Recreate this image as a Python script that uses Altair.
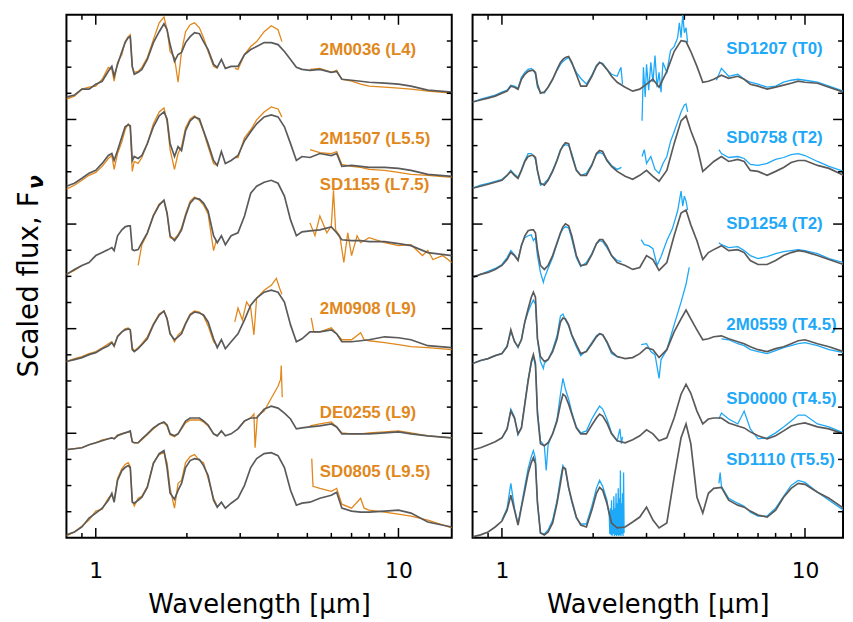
import altair as alt
import pandas as pd

# ---------------- wavelength grids (micron) ----------------
L_WAVE = [0.80, 0.85, 0.90, 0.95, 1.00, 1.05, 1.10, 1.13, 1.15, 1.18,
          1.22, 1.25, 1.28, 1.30, 1.32, 1.34, 1.38, 1.42, 1.48, 1.55,
          1.62, 1.68, 1.72, 1.76, 1.82, 1.87, 1.92, 1.98, 2.05, 2.12,
          2.20, 2.27, 2.35, 2.45, 2.52, 2.60, 2.68, 2.80, 2.95, 3.10,
          3.25, 3.40, 3.60, 3.80, 4.00, 4.20, 4.40, 4.60, 4.80, 5.10,
          5.50, 6.00, 6.25, 6.50, 7.00, 7.50, 8.00, 9.00, 10.0, 11.0,
          12.5, 15.0]
T_WAVE = [0.80, 0.85, 0.90, 0.95, 1.00, 1.04, 1.07, 1.10, 1.13, 1.16,
          1.19, 1.22, 1.25, 1.27, 1.29, 1.31, 1.34, 1.38, 1.42, 1.47,
          1.52, 1.56, 1.59, 1.62, 1.66, 1.70, 1.76, 1.82, 1.90, 1.98,
          2.05, 2.10, 2.15, 2.22, 2.30, 2.40, 2.55, 2.70, 2.85, 3.00,
          3.15, 3.30, 3.50, 3.70, 3.90, 4.05, 4.20, 4.40, 4.60, 4.80,
          5.00, 5.30, 5.60, 6.00, 6.30, 6.60, 7.00, 7.50, 8.00, 8.50,
          9.00, 9.50, 10.0, 11.0, 12.0, 13.4]

# ---------------- L dwarfs (left panel), scaled + offset flux ----------------
L_NAMES = ["2M0036 (L4)", "2M1507 (L5.5)", "SD1155 (L7.5)",
           "2M0908 (L9)", "DE0255 (L9)", "SD0805 (L9.5)"]
L_LABEL_FLUX = [492, 403, 356, 231, 126, 66]

M_2M0036 = [445, 447, 453, 453, 458, 461, 471, 476, 466, 478,
            491, 500, 505, 506, 476, 468, 470, 473, 483, 500,
            511, 519, 513, 498, 481, 488, 490, 500, 506, 510,
            509, 501, 493, 478, 475, 483, 474, 476, 476, 488,
            493, 496, 500, 500, 498, 491, 483, 475, 473, 472,
            473, 470, 471, 463, 462, 461, 460, 459, 458, 456,
            452, 450]
M_2M1507 = [355, 358, 363, 368, 371, 378, 386, 388, 381, 391,
            405, 415, 417, 416, 381, 385, 383, 386, 398, 415,
            426, 430, 423, 398, 385, 395, 391, 411, 421, 425,
            423, 411, 398, 381, 376, 390, 378, 381, 386, 401,
            410, 418, 425, 427, 425, 415, 398, 381, 385, 384,
            388, 386, 388, 375, 376, 375, 374, 374, 373, 371,
            367, 365]
M_SD1155 = [266, 271, 275, 278, 285, 288, 291, 293, 290, 305,
            311, 314, 315, 315, 291, 290, 291, 298, 308, 325,
            336, 341, 328, 305, 300, 305, 311, 325, 338, 343,
            342, 338, 330, 305, 298, 305, 296, 305, 308, 325,
            348, 355, 359, 361, 358, 345, 321, 305, 309, 310,
            311, 314, 308, 301, 300, 300, 299, 299, 297, 295,
            288, 285]
M_2M0908 = [178, 180, 182, 185, 187, 191, 194, 197, 194, 203,
            208, 210, 211, 210, 190, 188, 191, 195, 201, 215,
            225, 229, 221, 206, 200, 203, 206, 216, 225, 228,
            227, 225, 218, 201, 192, 200, 191, 198, 206, 220,
            235, 242, 248, 250, 248, 238, 215, 198, 201, 208,
            208, 210, 206, 198, 198, 199, 200, 203, 202, 200,
            194, 192]
M_DE0255 = [89, 90, 91, 94, 96, 98, 100, 101, 100, 103,
            105, 106, 107, 108, 97, 96, 96, 100, 105, 111,
            115, 117, 114, 105, 103, 105, 111, 118, 121, 121,
            121, 118, 114, 105, 103, 108, 103, 105, 110, 118,
            121, 121, 130, 133, 131, 126, 120, 110, 111, 112,
            113, 115, 112, 105, 105, 105, 105, 106, 107, 105,
            103, 101]
M_SD0805 = [3, 6, 11, 20, 25, 30, 38, 45, 36, 58,
            68, 71, 73, 71, 36, 35, 38, 41, 51, 75,
            85, 88, 71, 45, 39, 48, 55, 71, 78, 80,
            79, 73, 63, 38, 31, 36, 30, 35, 40, 53,
            71, 80, 85, 86, 83, 71, 48, 33, 35, 36,
            40, 43, 46, 30, 27, 26, 26, 27, 28, 25,
            16, 11]

O_2M0036 = [
    (L_WAVE[:35],
     [443, 446, 453, 455, 456, 463, 475, 473, 461, 480,
      488, 501, 506, 508, 475, 470, 471, 475, 485, 503,
      520, 526, 513, 491, 485, 460, 491, 511, 518, 520,
      515, 505, 491, 476, 474]),
    ([2.88, 2.95, 3.10, 3.25, 3.40, 3.60, 3.80, 4.00, 4.12],
     [474, 473, 488, 496, 501, 511, 517, 513, 501]),
    (L_WAVE[49:],
     [473, 474, 470, 472, 463, 461, 458, 456, 455, 454, 453, 451, 449]),
]
O_2M1507 = [
    (L_WAVE[:35],
     [352, 356, 361, 366, 369, 375, 383, 386, 372, 388,
      400, 412, 418, 414, 370, 380, 378, 384, 398, 418,
      430, 434, 420, 392, 372, 388, 395, 414, 423, 426,
      421, 410, 395, 378, 376]),
    ([2.90, 2.95, 3.10, 3.25, 3.40, 3.60, 3.80, 4.00, 4.12],
     [384, 384, 404, 412, 422, 430, 435, 433, 425]),
    (L_WAVE[49:],
     [392, 389, 388, 390, 377, 375, 374, 372, 371, 369, 367, 366, 364]),
]
O_SD1155 = [
    ([0.80, 0.85, 0.90], [266, 270, 275]),
    ([1.38, 1.42, 1.48, 1.55, 1.62, 1.68, 1.72, 1.76, 1.82, 1.87,
      1.92, 1.98, 2.05, 2.12, 2.20, 2.27, 2.35, 2.45, 2.50],
     [275, 296, 307, 326, 337, 340, 327, 303, 302, 306,
      313, 327, 340, 344, 341, 336, 327, 290, 300]),
    ([5.10, 5.30, 5.50, 5.80, 6.00, 6.10, 6.20, 6.40, 6.60, 6.80, 7.00,
      7.30, 7.50, 8.00, 9.00, 10.0, 11.0, 12.0, 12.5, 13.0, 14.0, 15.0],
     [318, 305, 325, 308, 315, 351, 311, 305, 278, 308, 285,
      305, 298, 303, 298, 295, 296, 285, 290, 281, 285, 278]),
]
O_2M0908 = [
    (L_WAVE[:35],
     [178, 181, 183, 186, 188, 192, 196, 198, 193, 204,
      208, 211, 212, 210, 192, 189, 192, 196, 203, 216,
      226, 229, 222, 207, 198, 205, 208, 217, 226, 229,
      228, 224, 214, 198, 194]),
    ([2.88, 2.95, 3.05, 3.15, 3.25, 3.33, 3.40, 3.60, 3.80, 3.95, 4.05, 4.12],
     [218, 232, 220, 238, 232, 205, 242, 250, 255, 262, 252, 246]),
    ([5.15, 5.25, 5.50, 6.00, 6.25, 6.50, 7.00, 7.50, 7.70, 8.00,
      9.00, 10.0, 11.0, 12.5, 15.0],
     [222, 208, 208, 212, 206, 200, 200, 207, 200, 199,
      197, 195, 193, 192, 190]),
]
O_DE0255 = [
    (L_WAVE[:35],
     [89, 90, 91, 94, 96, 99, 100, 101, 100, 104,
      105, 106, 107, 107, 97, 96, 96, 99, 104, 110,
      115, 116, 113, 104, 102, 105, 110, 116, 119, 119,
      119, 117, 113, 105, 103]),
    ([2.95, 3.10, 3.25, 3.33, 3.36, 3.42, 3.60, 3.80, 4.00, 4.08, 4.10, 4.13],
     [110, 118, 121, 125, 91, 123, 128, 141, 153, 160, 174, 142]),
    (L_WAVE[49:],
     [113, 115, 117, 112, 106, 105, 105, 106, 107, 108, 106, 103, 101]),
]
O_SD0805 = [
    (L_WAVE[:35],
     [2, 6, 12, 18, 27, 29, 40, 43, 38, 60,
      70, 74, 76, 72, 38, 32, 40, 42, 52, 76,
      84, 86, 76, 50, 30, 55, 58, 76, 82, 84,
      78, 76, 60, 40, 32]),
    ([5.17, 5.22, 5.50, 6.00, 6.25, 6.50, 7.00, 7.50, 7.70, 8.00,
      9.00, 10.0, 11.0, 12.5, 15.0],
     [80, 52, 50, 47, 50, 34, 30, 40, 30, 28,
      26, 24, 22, 18, 10]),
]

# ---------------- T dwarfs (right panel) ----------------
T_NAMES = ["SD1207 (T0)", "SD0758 (T2)", "SD1254 (T2)",
           "2M0559 (T4.5)", "SD0000 (T4.5)", "SD1110 (T5.5)"]
T_LABEL_FLUX = [493, 404, 317, 215, 140, 79]

M_SD1207 = [440, 442, 444, 446, 449, 451, 456, 455, 453, 463,
            468, 471, 472, 472, 470, 458, 449, 450, 455, 463,
            473, 480, 483, 485, 486, 480, 468, 456, 456, 466,
            476, 480, 478, 473, 466, 460, 455, 451, 453, 458,
            463, 455, 471, 491, 502, 501, 491, 476, 460, 461,
            463, 467, 464, 466, 463, 458, 456, 453, 455, 457,
            459, 461, 460, 459, 455, 450]
M_SD0758 = [353, 355, 357, 359, 361, 366, 370, 366, 363, 371,
            380, 385, 386, 386, 384, 371, 358, 356, 361, 370,
            381, 391, 396, 399, 398, 386, 371, 366, 366, 376,
            388, 391, 390, 381, 375, 370, 365, 362, 366, 371,
            365, 360, 371, 398, 421, 426, 411, 395, 370, 375,
            380, 385, 380, 382, 380, 371, 370, 366, 370, 374,
            379, 381, 381, 376, 373, 366]
M_SD1254 = [263, 266, 268, 271, 275, 281, 288, 285, 280, 295,
            305, 310, 311, 311, 308, 291, 275, 271, 275, 285,
            298, 308, 314, 317, 315, 305, 285, 275, 276, 286,
            297, 301, 301, 295, 285, 278, 275, 271, 273, 285,
            281, 270, 278, 305, 328, 331, 316, 300, 281, 288,
            291, 295, 290, 291, 288, 280, 276, 276, 280, 285,
            288, 290, 289, 285, 281, 276]
M_2M0559 = [176, 179, 181, 184, 186, 193, 210, 198, 193, 200,
            218, 231, 243, 248, 243, 201, 183, 178, 180, 188,
            201, 218, 222, 221, 215, 205, 195, 186, 188, 196,
            203, 206, 205, 198, 188, 183, 181, 182, 186, 192,
            190, 182, 190, 208, 221, 230, 221, 210, 200, 201,
            203, 204, 201, 198, 196, 193, 190, 188, 191, 193,
            196, 199, 200, 196, 193, 188]
M_SD0000 = [89, 91, 94, 97, 101, 110, 128, 121, 105, 111,
            135, 158, 178, 185, 176, 125, 95, 93, 96, 105,
            118, 135, 145, 143, 135, 125, 111, 105, 105, 114,
            121, 125, 123, 116, 105, 98, 96, 99, 103, 109,
            105, 98, 101, 121, 145, 155, 146, 128, 115, 120,
            121, 121, 116, 113, 111, 107, 103, 100, 103, 108,
            113, 115, 116, 112, 110, 105]
M_SD1110 = [1, 3, 6, 11, 17, 28, 43, 28, 13, 31,
            48, 65, 76, 81, 75, 35, 5, 3, 6, 15,
            35, 55, 71, 70, 51, 38, 21, 13, 11, 28,
            45, 51, 48, 35, 15, 10, 11, 16, 21, 31,
            18, 10, 15, 61, 101, 115, 95, 41, 25, 45,
            50, 51, 38, 33, 31, 27, 23, 21, 28, 41,
            50, 55, 54, 46, 40, 30]

O_SD1207 = [
    (T_WAVE[:36] + [2.47, 2.50],
     [440, 443, 445, 447, 450, 452, 457, 456, 454, 465,
      470, 473, 474, 472, 468, 455, 450, 449, 455, 463,
      472, 478, 481, 483, 485, 479, 470, 464, 458, 467,
      477, 480, 479, 473, 468, 466, 475, 458]),
    ([2.90, 2.93, 2.97, 3.00, 3.05, 3.10, 3.15, 3.20, 3.25, 3.30, 3.35,
      3.40, 3.50, 3.60, 3.70, 3.80, 3.85, 3.90, 3.95, 4.00, 4.05, 4.10],
     [421, 475, 445, 478, 452, 480, 460, 487, 455, 470, 450,
      480, 470, 492, 496, 505, 520, 505, 528, 510, 515, 500]),
    ([5.10] + T_WAVE[51:],
     [462, 474, 466, 468, 463, 460, 458, 455, 456, 460, 462, 463, 462, 460, 456, 451]),
]
O_SD0758 = [
    (T_WAVE[:36] + [2.48],
     [353, 356, 358, 360, 362, 366, 371, 367, 364, 372,
      381, 388, 388, 386, 382, 370, 356, 358, 362, 371,
      382, 392, 395, 397, 396, 388, 372, 366, 368, 377,
      387, 389, 388, 382, 376, 372, 374]),
    ([2.90, 2.95, 3.00, 3.10, 3.20, 3.30, 3.40, 3.50, 3.60, 3.70,
      3.80, 3.90, 4.00, 4.05, 4.10],
     [385, 392, 378, 385, 372, 368, 378, 385, 400, 410,
      420, 430, 437, 438, 430]),
    ([5.20] + T_WAVE[51:],
     [392, 388, 384, 385, 383, 377, 376, 378, 382, 384, 387, 388, 386, 380, 375, 370]),
]
O_SD1254 = [
    (T_WAVE[:17] + [1.37] + T_WAVE[17:36] + [2.48],
     [263, 266, 269, 272, 276, 283, 290, 286, 281, 296,
      303, 305, 306, 300, 303, 285, 268, 258,
      262, 272, 283, 297, 307, 312, 314, 313, 302, 283,
      274, 278, 287, 297, 300, 299, 293, 285, 280, 279]),
    ([2.88, 2.95, 3.05, 3.15, 3.25, 3.35, 3.50, 3.65, 3.80, 3.90,
      3.95, 4.00, 4.05, 4.10],
     [301, 296, 295, 292, 275, 284, 300, 312, 330, 350,
      335, 345, 340, 331]),
    ([5.20] + T_WAVE[51:],
     [298, 296, 293, 294, 290, 285, 282, 284, 287, 289, 290, 291, 290, 287, 282, 278]),
]
O_2M0559 = [
    (T_WAVE[:17] + [1.37] + T_WAVE[17:36] + [2.45],
     [176, 179, 181, 184, 186, 194, 208, 199, 192, 201,
      218, 228, 236, 240, 236, 200, 178, 171,
      176, 180, 190, 204, 224, 226, 220, 214, 204, 193,
      184, 189, 197, 204, 206, 205, 197, 186, 183, 182]),
    ([2.88, 3.00, 3.10, 3.20, 3.30, 3.35, 3.50, 3.70, 3.90, 4.05, 4.15],
     [195, 196, 188, 185, 161, 180, 190, 215, 238, 256, 273]),
    (T_WAVE[51:],
     [201, 200, 196, 194, 190, 188, 186, 189, 192, 194, 196, 197, 194, 190, 187]),
]
O_SD0000 = [
    (T_WAVE[4:18] + [1.40] + T_WAVE[18:36] + [2.45, 2.48, 2.50],
     [101, 110, 130, 122, 104, 112, 136, 160, 176, 183, 174, 128, 98, 93,
      68,
      94, 105, 120, 145, 161, 150, 140, 127, 112, 106, 108, 120, 128, 133,
      130, 120, 106, 98,
      110, 95, 102]),
    ([5.20] + T_WAVE[51:],
     [120, 126, 120, 115, 128, 110, 100, 101, 106, 112, 118, 124, 124, 115, 112, 106]),
]
O_SD1110 = [
    (T_WAVE[4:34] + [2.26, 2.27, 2.28, 2.29, 2.30, 2.31, 2.32, 2.33, 2.34, 2.35,
                     2.36, 2.37, 2.38, 2.39, 2.40, 2.41, 2.42, 2.43, 2.44, 2.45,
                     2.46, 2.47, 2.48, 2.49, 2.50, 2.51, 2.52, 2.53],
     [18, 30, 55, 30, 14, 33, 52, 70, 82, 88, 80, 36, 5, 4, 8,
      18, 38, 60, 73, 68, 50, 36, 20, 14, 14, 32, 50, 58, 52, 38,
      22, 4, 30, 3, 38, 2, 28, 4, 42, 2,
      30, 3, 45, 2, 35, 3, 50, 2, 40, 3,
      68, 2, 35, 4, 45, 2, 66, 5]),
    ([5.20, 5.25] + T_WAVE[51:],
     [55, 66, 52, 40, 35, 32, 26, 22, 22, 30, 42, 53, 58, 56, 46, 38, 28]),
]

L_MODELS = [M_2M0036, M_2M1507, M_SD1155, M_2M0908, M_DE0255, M_SD0805]
L_OBS = [O_2M0036, O_2M1507, O_SD1155, O_2M0908, O_DE0255, O_SD0805]
T_MODELS = [M_SD1207, M_SD0758, M_SD1254, M_2M0559, M_SD0000, M_SD1110]
T_OBS = [O_SD1207, O_SD0758, O_SD1254, O_2M0559, O_SD0000, O_SD1110]

LABEL_WAVE = 5.5
X_MAJOR = [1, 10]
X_MINOR = [0.9, 2, 3, 4, 5, 6, 7, 8, 9]
Y_TICK_STEP = 26.4
Y_MAX = 528

ORANGE = "#E1871B"
BLUE = "#1DA8F8"
GRAY = "#5A5A5A"

# ---------------- build tables ----------------
def build(names, models, obs, wave_grid):
    rows = []
    for name, m, segs in zip(names, models, obs):
        assert len(m) == len(wave_grid), name
        for w, f in zip(wave_grid, m):
            rows.append({"key": name + "|model", "kind": "model", "wave": w, "flux": f})
        for i, (ws, fs) in enumerate(segs):
            assert len(ws) == len(fs), (name, i)
            for w, f in zip(ws, fs):
                rows.append({"key": f"{name}|obs{i}", "kind": "obs", "wave": w, "flux": f})
    return pd.DataFrame(rows)


def panel(names, models, obs, wave_grid, label_flux, color, width, xmax, ytitle):
    H = Y_MAX
    df = build(names, models, obs, wave_grid)
    xs = alt.Scale(type="log", domain=[0.8, xmax], nice=False)
    ys = alt.Scale(domain=[0, Y_MAX], nice=False, zero=False)
    xax = alt.Axis(values=X_MAJOR, format="d", title="Wavelength [μm]",
                   labelPadding=23, titlePadding=10)

    def X(field):
        return alt.X(field, scale=xs, axis=xax)

    def Y(field):
        return alt.Y(field, scale=ys, axis=None)

    base = alt.Chart(df)
    obs_l = base.transform_filter(alt.datum.kind == "obs").mark_line(
        color=color, strokeWidth=1.3, clip=True).encode(
        x=X("wave:Q"), y=Y("flux:Q"), detail="key:N")
    mod_l = base.transform_filter(alt.datum.kind == "model").mark_line(
        color=GRAY, strokeWidth=1.7, clip=True).encode(
        x=X("wave:Q"), y=Y("flux:Q"), detail="key:N")
    lab = alt.Chart(pd.DataFrame({"name": names, "flux": label_flux,
                                  "wave": [LABEL_WAVE] * len(names)})).mark_text(
        align="left", baseline="middle", font="Liberation Sans", fontWeight="bold",
        fontSize=17, color=color).encode(
        x=X("wave:Q"), y=Y("flux:Q"), text="name:N")
    layers = [obs_l, mod_l, lab]

    def xt(vals, L):
        d = pd.DataFrame({"wave": vals})
        c = alt.Chart(d)
        top = c.mark_rule(color="black", strokeWidth=1.5).encode(
            x=X("wave:Q"), y=alt.value(0), y2=alt.value(L))
        bot = c.mark_rule(color="black", strokeWidth=1.5).encode(
            x=X("wave:Q"), y=alt.value(H), y2=alt.value(H - L))
        return [top, bot]

    def yt(vals, L):
        d = pd.DataFrame({"flux": vals})
        c = alt.Chart(d)
        lft = c.mark_rule(color="black", strokeWidth=1.5).encode(
            y=Y("flux:Q"), x=alt.value(0), x2=alt.value(L))
        rgt = c.mark_rule(color="black", strokeWidth=1.5).encode(
            y=Y("flux:Q"), x=alt.value(width), x2=alt.value(width - L))
        return [lft, rgt]

    xmaj = [v for v in X_MAJOR if v <= xmax]
    xmin = [v for v in X_MINOR if v <= xmax]
    ymaj = [Y_TICK_STEP * k for k in range(1, 20) if k % 4 == 0]
    ymin = [Y_TICK_STEP * k for k in range(1, 20) if k % 4 != 0]
    layers += xt(xmaj, 10) + xt(xmin, 5) + yt(ymaj, 10) + yt(ymin, 5)

    if ytitle:
        t1 = alt.Chart(pd.DataFrame({"t": ["Scaled flux, F"]})).mark_text(
            angle=270, align="left", baseline="middle", font="DejaVu Sans",
            fontSize=28, color="black").encode(
            x=alt.value(-37), y=alt.value(366), text="t:N")
        t2 = alt.Chart(pd.DataFrame({"t": ["ν"]})).mark_text(
            angle=270, align="left", baseline="middle", font="DejaVu Sans",
            fontSize=21, fontStyle="italic", fontWeight="bold", color="black").encode(
            x=alt.value(-30), y=alt.value(176), text="t:N")
        layers += [t1, t2]

    return alt.layer(*layers).properties(width=width, height=H)


left = panel(L_NAMES, L_MODELS, L_OBS, L_WAVE, L_LABEL_FLUX, ORANGE, 389, 15.0, True)
right = panel(T_NAMES, T_MODELS, T_OBS, T_WAVE, T_LABEL_FLUX, BLUE, 374, 13.35, False)

chart = alt.hconcat(left, right, spacing=17).properties(
    padding={"left": 7, "top": 2, "right": 0, "bottom": 0}
).configure_view(stroke="black", strokeWidth=2).configure_axis(
    labelFont="DejaVu Sans", labelFontSize=22, labelColor="black",
    titleFont="DejaVu Sans", titleFontSize=26, titleColor="black",
    titleFontWeight="normal", grid=False, domain=False, ticks=False)

chart.save("out.html", embed_options={"renderer": "svg", "actions": False})
